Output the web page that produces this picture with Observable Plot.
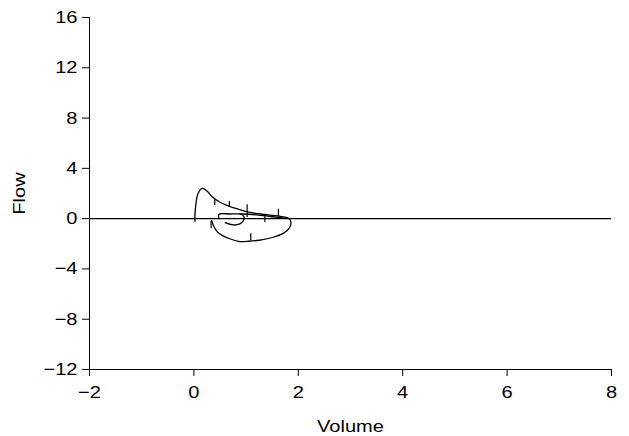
<!DOCTYPE html>
<html>
<head>
<meta charset="utf-8">
<script src="https://cdn.jsdelivr.net/npm/d3@7"></script>
<script src="https://cdn.jsdelivr.net/npm/@observablehq/plot@0.6"></script>
<style>
  html, body { margin: 0; padding: 0; background: #fff; }
  #chart svg text { font-family: "Liberation Sans", Arial, sans-serif !important; font-size: 17px !important; fill: #000; }
</style>
</head>
<body>
<div id="chart"></div>
<script>
// Outer flow-volume loop (volume, flow)
const outerVolume = [0.02, 0.02, 0.04, 0.08, 0.16, 0.25, 0.35, 0.5, 0.67, 0.85, 1.05, 1.3, 1.63, 1.82, 1.86, 1.82, 1.72, 1.5, 1.25, 1.05, 0.88, 0.7, 0.55, 0.45, 0.38, 0.34];
const outerFlow   = [-0.2, 0.3, 1.2, 2.0, 2.4, 2.2, 1.75, 1.3, 1.0, 0.75, 0.52, 0.35, 0.2, 0.02, -0.3, -0.8, -1.15, -1.5, -1.72, -1.8, -1.82, -1.62, -1.35, -1.05, -0.6, -0.15];
// Inner small breath
const innerVolume = [0.48, 0.48, 0.7, 0.9, 1.2, 1.5, 1.8];
const innerFlow   = [0.0, 0.35, 0.37, 0.37, 0.3, 0.15, 0.02];
// Inner hook
const hookVolume = [0.9, 0.96, 0.95, 0.88, 0.75, 0.6];
const hookFlow   = [0.37, 0.15, -0.15, -0.42, -0.5, -0.32];
// Breath markers (vertical short segments)
const markVolume = [0.40, 0.68, 1.02, 1.36, 1.62, 0.33, 1.09];
const markTop    = [1.5, 1.36, 1.1, 0.3, 0.75, -0.2, -1.2];
const markBottom = [1.05, 0.88, 0.1, -0.3, 0.17, -0.8, -1.75];

const xTicks = [-2, 0, 2, 4, 6, 8];
const yTicks = [-12, -8, -4, 0, 4, 8, 12, 16];

const mk = (vs, fs, id) => vs.map((v, i) => ({volume: v, flow: fs[i], id}));
const lines = [
  ...mk(outerVolume, outerFlow, "outer"),
  ...mk(innerVolume, innerFlow, "inner"),
  ...mk(hookVolume, hookFlow, "hook")
];
const marks = markVolume.map((v, i) => ({volume: v, y1: markTop[i], y2: markBottom[i]}));

const fmt = d => d < 0 ? "\u2212" + Math.abs(d) : String(d);

const chart = Plot.plot({
  width: 629,
  height: 436,
  marginLeft: 89,
  marginRight: 18,
  marginTop: 17,
  marginBottom: 67,
  style: {fontFamily: "Liberation Sans, Arial, sans-serif", fontSize: "17px", color: "#000", background: "#fff"},
  x: {domain: [-2, 8]},
  y: {domain: [-12, 16]},
  marks: [
    Plot.axisX({ticks: xTicks, tickFormat: fmt, tickSize: 7, tickPadding: 9, label: "Volume", labelAnchor: "center", labelArrow: "none", labelOffset: 62}),
    Plot.axisY({ticks: yTicks, tickFormat: fmt, tickSize: 7, tickPadding: 5, label: "Flow", labelAnchor: "center", labelArrow: "none", labelOffset: 77}),
    Plot.ruleX([-2], {stroke: "#000", strokeWidth: 1}),
    Plot.ruleY([-12], {stroke: "#000", strokeWidth: 1}),
    Plot.ruleY([0], {stroke: "#000", strokeWidth: 1.2}),
    Plot.line(lines, {x: "volume", y: "flow", z: "id", curve: "catmull-rom", stroke: "#000", strokeWidth: 1.3}),
    Plot.ruleX(marks, {x: "volume", y1: "y1", y2: "y2", stroke: "#000", strokeWidth: 1.2})
  ]
});
// Widen glyphs horizontally (reference typeface is ~18% wider than Arial)
chart.querySelectorAll("text").forEach(t => {
  const tr = t.getAttribute("transform");
  if (tr) {
    t.setAttribute("transform", tr + " scale(1.18,1)");
  } else {
    const x = +(t.getAttribute("x") || 0), y = +(t.getAttribute("y") || 0);
    t.setAttribute("transform", `translate(${x},${y}) scale(1.18,1) translate(${-x},${-y})`);
  }
});
document.getElementById("chart").appendChild(chart);
</script>
</body>
</html>
